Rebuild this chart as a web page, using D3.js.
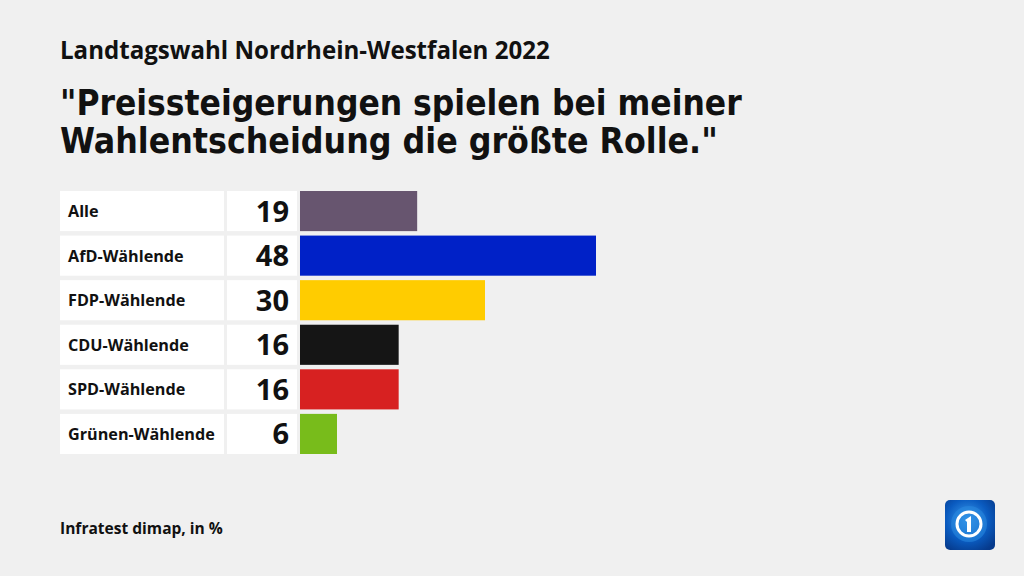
<!DOCTYPE html>
<html><head><meta charset="utf-8">
<script src="https://cdn.jsdelivr.net/npm/d3@7"></script>
<style>
html,body{margin:0;padding:0;background:#f0f0f0;}
svg{display:block;font-family:"Open Sans",Lato,sans-serif;}
</style></head>
<body>
<svg id="c" width="1024" height="576"></svg>
<script>
const categories = ["Alle","AfD-Wählende","FDP-Wählende","CDU-Wählende","SPD-Wählende","Grünen-Wählende"];
const values = [19,48,30,16,16,6];
const colors = ["#67556f","#0021c7","#ffcc00","#151515","#d72121","#78bc1b"];
const subtitle = "Landtagswahl Nordrhein-Westfalen 2022";
const titleLines = ["\"Preissteigerungen spielen bei meiner","Wahlentscheidung die größte Rolle.\""];
const source = "Infratest dimap, in %";

const svg = d3.select("#c");
svg.append("rect").attr("width",1024).attr("height",576).attr("fill","#f0f0f0");

function fitText(sel, w){ const l = sel.node().getComputedTextLength(); if(l>0) sel.attr("font-size", parseFloat(sel.attr("font-size"))*w/l); }

const condensed = "'Liberation Sans Narrow','Arial Narrow','DejaVu Sans Condensed',sans-serif";

const st = svg.append("text").attr("x",60).attr("y",59).attr("font-size",21).attr("font-weight",700)
  .attr("font-family","'Open Sans',sans-serif").attr("fill","#111").text(subtitle);
fitText(st, 490);
titleLines.forEach((t,i)=>{
  const tt = svg.append("text").attr("x",60).attr("y",115+i*38).attr("font-size",40).attr("font-weight",700)
    .attr("font-family",condensed).attr("fill","#111").text(t);
  fitText(tt, i===0 ? 682 : 658);
});

const y = d3.scaleBand().domain(categories).range([191, 191+263]).paddingInner(0.1).paddingOuter(0);
const x = d3.scaleLinear().domain([0,48]).range([300,596]);

const rows = svg.append("g").selectAll("g").data(categories).join("g");
rows.append("rect").attr("x",60).attr("width",164).attr("y",d=>y(d)).attr("height",y.bandwidth()).attr("fill","#fff");
rows.append("rect").attr("x",227).attr("width",70).attr("y",d=>y(d)).attr("height",y.bandwidth()).attr("fill","#fff");
rows.append("text").attr("x",68).attr("y",d=>y(d)+y.bandwidth()/2+6).attr("font-size",16.2).attr("font-weight",700).attr("fill","#111").text(d=>d);
rows.append("text").attr("x",289).attr("text-anchor","end").attr("y",d=>y(d)+y.bandwidth()/2+10.5).attr("font-size",29).attr("font-weight",700).attr("fill","#111").text((d,i)=>values[i]);
rows.append("rect").attr("x",x(0)).attr("y",d=>y(d)).attr("height",y.bandwidth()).attr("width",(d,i)=>x(values[i])-x(0)).attr("fill",(d,i)=>colors[i]);

const src = svg.append("text").attr("x",60).attr("y",534).attr("font-size",15).attr("font-weight",700).attr("fill","#111").text(source);
fitText(src, 163);

// logo
const defs = svg.append("defs");
const g = defs.append("radialGradient").attr("id","lg").attr("cx","45%").attr("cy","40%").attr("r","70%");
g.append("stop").attr("offset","0%").attr("stop-color","#3fa0f0");
g.append("stop").attr("offset","60%").attr("stop-color","#0a5bc0");
g.append("stop").attr("offset","100%").attr("stop-color","#063a8c");
const lg = svg.append("g").attr("transform","translate(945,500)");
lg.append("rect").attr("width",50).attr("height",50).attr("rx",5).attr("fill","url(#lg)");
lg.append("circle").attr("cx",24).attr("cy",24).attr("r",18).attr("fill","#2a8ae0").attr("opacity",0.55);
lg.append("circle").attr("cx",24).attr("cy",24).attr("r",12).attr("fill","none").attr("stroke","#fff").attr("stroke-width",3);
lg.append("path").attr("d","M20,20 L26,16 L26,32 L22,32 L22,22 Z").attr("fill","#fff");
</script>
</body></html>
